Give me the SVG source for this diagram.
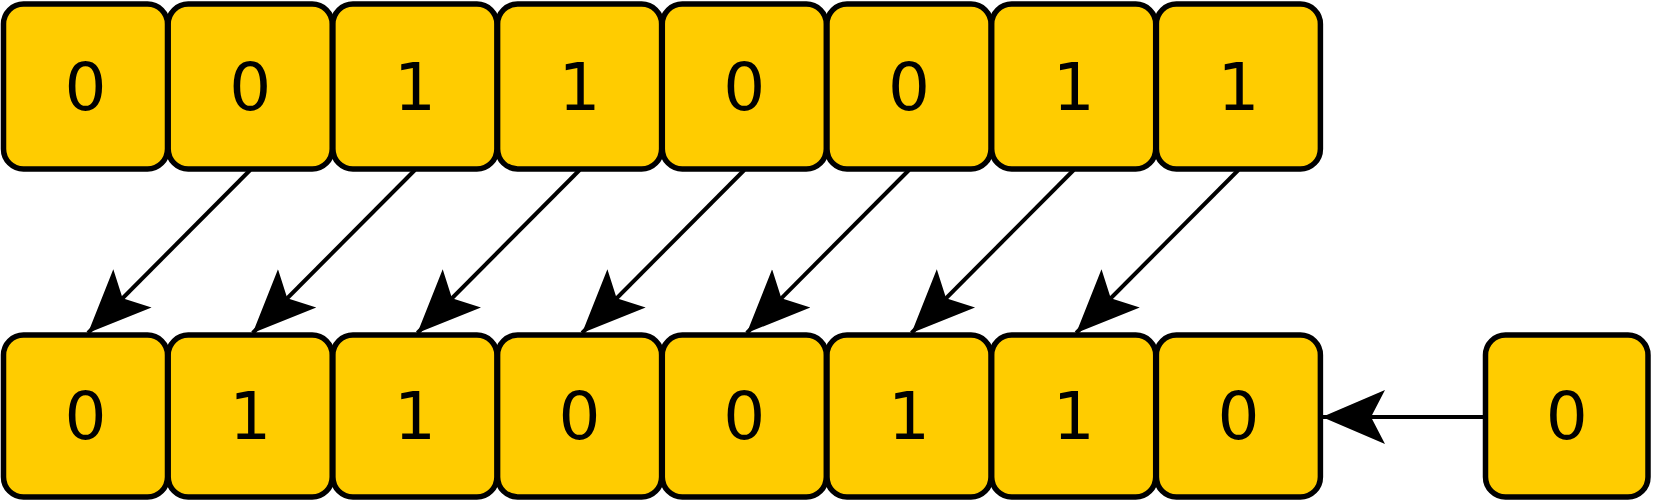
<svg xmlns="http://www.w3.org/2000/svg" width="1653" height="500" viewBox="0 0 1653 500">
<defs>
<style>
.box{fill:#ffcc00;stroke:#000;stroke-width:5.5}
.lbl{font-family:"DejaVu Sans",sans-serif;font-size:66px;fill:#000;text-anchor:middle}
.con{stroke:#000;stroke-width:4;fill:none;marker-end:url(#ah)}
</style>
<marker id="ah" markerUnits="userSpaceOnUse" markerWidth="70" markerHeight="60" viewBox="0 -30 70 60" refX="63" refY="0" orient="auto">
<path d="M63,0 L0,-27 L14,0 L0,27 Z" fill="#000"/>
</marker>
</defs>
<rect width="1653" height="500" fill="#fff"/>
<g id="connectors">
<line class="con" x1="250.2" y1="170" x2="88" y2="333"/>
<line class="con" x1="414.9" y1="170" x2="252.7" y2="333"/>
<line class="con" x1="579.6" y1="170" x2="417.4" y2="333"/>
<line class="con" x1="744.3" y1="170" x2="582.1" y2="333"/>
<line class="con" x1="909" y1="170" x2="746.8" y2="333"/>
<line class="con" x1="1073.7" y1="170" x2="911.5" y2="333"/>
<line class="con" x1="1238.4" y1="170" x2="1076.2" y2="333"/>
<line class="con" x1="1485.5" y1="417" x2="1322" y2="417"/>
</g>
<g id="t0"><rect class="box" x="3.5" y="4" width="164" height="165" rx="20"/><text class="lbl" x="85.5" y="110">0</text></g>
<g id="t1"><rect class="box" x="168.2" y="4" width="164" height="165" rx="20"/><text class="lbl" x="250.2" y="110">0</text></g>
<g id="t2"><rect class="box" x="332.9" y="4" width="164" height="165" rx="20"/><text class="lbl" x="414.9" y="110">1</text></g>
<g id="t3"><rect class="box" x="497.6" y="4" width="164" height="165" rx="20"/><text class="lbl" x="579.6" y="110">1</text></g>
<g id="t4"><rect class="box" x="662.3" y="4" width="164" height="165" rx="20"/><text class="lbl" x="744.3" y="110">0</text></g>
<g id="t5"><rect class="box" x="827" y="4" width="164" height="165" rx="20"/><text class="lbl" x="909" y="110">0</text></g>
<g id="t6"><rect class="box" x="991.7" y="4" width="164" height="165" rx="20"/><text class="lbl" x="1073.7" y="110">1</text></g>
<g id="t7"><rect class="box" x="1156.4" y="4" width="164" height="165" rx="20"/><text class="lbl" x="1238.4" y="110">1</text></g>
<g id="b0"><rect class="box" x="3.5" y="335" width="164" height="162" rx="20"/><text class="lbl" x="85.5" y="439">0</text></g>
<g id="b1"><rect class="box" x="168.2" y="335" width="164" height="162" rx="20"/><text class="lbl" x="250.2" y="439">1</text></g>
<g id="b2"><rect class="box" x="332.9" y="335" width="164" height="162" rx="20"/><text class="lbl" x="414.9" y="439">1</text></g>
<g id="b3"><rect class="box" x="497.6" y="335" width="164" height="162" rx="20"/><text class="lbl" x="579.6" y="439">0</text></g>
<g id="b4"><rect class="box" x="662.3" y="335" width="164" height="162" rx="20"/><text class="lbl" x="744.3" y="439">0</text></g>
<g id="b5"><rect class="box" x="827" y="335" width="164" height="162" rx="20"/><text class="lbl" x="909" y="439">1</text></g>
<g id="b6"><rect class="box" x="991.7" y="335" width="164" height="162" rx="20"/><text class="lbl" x="1073.7" y="439">1</text></g>
<g id="b7"><rect class="box" x="1156.4" y="335" width="164" height="162" rx="20"/><text class="lbl" x="1238.4" y="439">0</text></g>
<g id="extra"><rect class="box" x="1485.5" y="335" width="162.5" height="162" rx="20"/><text class="lbl" x="1566.7" y="439">0</text></g>
</svg>
